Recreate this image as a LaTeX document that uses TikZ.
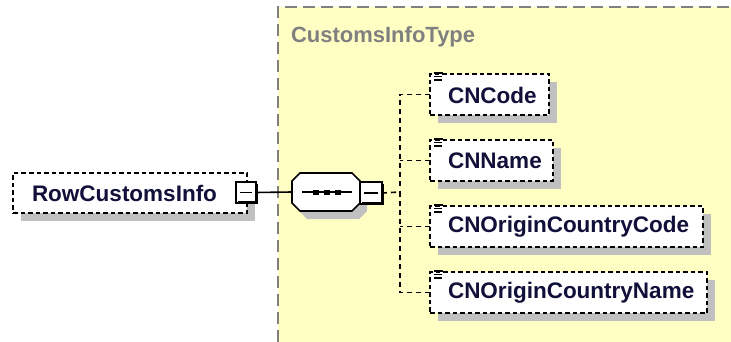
\documentclass[tikz,border=0pt]{standalone}
\usepackage{fontspec}
\setmainfont{Liberation Sans}
\begin{document}
\begin{tikzpicture}[x=1pt,y=-1pt,
  every node/.style={inner sep=0pt, outer sep=0pt},
  lbl/.style={font=\fontsize{22.5}{26}\selectfont\bfseries, text=navytext, anchor=west},
  ttl/.style={font=\fontsize{22}{26}\selectfont\bfseries, text=titlegray, anchor=west},
  elembox/.style={draw=black, fill=white, line width=1.6pt, dash pattern=on 4.5pt off 3pt, rectangle, anchor=north west},
  shadowbox/.style={fill=shadowgray, draw=none, rectangle, anchor=north west},
  conn/.style={draw=black, line width=1.6pt},
  dconn/.style={draw=black, line width=1.6pt, dash pattern=on 5pt off 4pt},
  minusbox/.style={draw=black, fill=white, line width=1.4pt, rectangle, anchor=north west, minimum width=20pt, minimum height=21pt}
]
\definecolor{navytext}{HTML}{10103A}
\definecolor{titlegray}{HTML}{808080}
\definecolor{shadowgray}{HTML}{C0C0C0}
\definecolor{typefill}{HTML}{FFFFC4}
\useasboundingbox (0,0) rectangle (731,342);
\fill[white] (0,0) rectangle (731,342);
% type box
\path[fill=typefill] (278,7) rectangle (731,342);
\draw[titlegray, line width=2pt, dash pattern=on 12pt off 6pt] (278,342) -- (278,7) -- (731,7);
\node[ttl] (typetitle) at (291,37) {CustomsInfoType};

% root element
\node[shadowbox, minimum width=234pt, minimum height=40pt] (rootsh) at (21,181) {};
\node[elembox, minimum width=234pt, minimum height=40pt] (rootbox) at (13,173) {};
\node[lbl] (rootlbl) at (32,193) {RowCustomsInfo};
\node[minusbox] (rootminus) at (236,182) {};
\draw[black, line width=3pt] ([xshift=0.8pt,yshift=-1.5pt]rootminus.north east) -- ([xshift=0.8pt,yshift=0.8pt]rootminus.south east) -- ([xshift=-18pt, yshift=0.8pt]rootminus.south east);
\draw[black, line width=1.4pt] ([xshift=4pt]rootminus.west) -- ([xshift=-4pt]rootminus.east);

% sequence compositor
\fill[shadowgray] (307,180) -- (359,180) -- (367,188) -- (367,211) -- (359,219) -- (307,219) -- (299,211) -- (299,188) -- cycle;
\draw[black, fill=white, line width=1.6pt] (300,173) coordinate (seqtl) -- (352,173) -- (360,181) -- (360,203) -- (352,211) -- (300,211) -- (292,203) -- (292,181) coordinate (seqw0) -- cycle;
\coordinate (seqwest) at (292,192);
\coordinate (seqeast) at (360,192);
\draw[black, line width=1.5pt] (302,192) -- (352,192);
\foreach \xx in {313,324,335} \fill[black] (\xx,189.5) rectangle ++(5.5,5.5);
\node[minusbox, minimum width=22pt, minimum height=22pt] (seqminus) at (360,182) {};
\draw[black, line width=3pt] ([xshift=0.8pt,yshift=-1.5pt]seqminus.north east) -- ([xshift=0.8pt,yshift=0.8pt]seqminus.south east) -- ([xshift=-20pt, yshift=0.8pt]seqminus.south east);
\draw[black, line width=1.4pt] ([xshift=4pt]seqminus.west) -- ([xshift=-4pt]seqminus.east);

\draw[conn] (rootminus.east) -- (seqwest);

% children
\foreach \nm/\yy/\ww/\txt in {c1/74/119/CNCode, c2/140/123/CNName, c3/206/273/CNOriginCountryCode, c4/272/277/CNOriginCountryName}{
  \node[shadowbox, minimum width=\ww pt, minimum height=41pt] (\nm sh) at (438,\yy+8) {};
  \node[elembox, minimum width=\ww pt, minimum height=41pt] (\nm) at (430,\yy) {};
  \node[lbl] (\nm lbl) at (448,\yy+21) {\txt};
  \draw[black, line width=1.3pt] (434,\yy-1) -- (443,\yy-1) (434,\yy+2.5) -- (442,\yy+2.5) (434,\yy+6) -- (442,\yy+6);
}
\coordinate (trunk) at (400,192);
\draw[dconn] (seqminus.east) -- (trunk);
\draw[dconn] (c1.west) -| (trunk);
\draw[dconn] (c4.west) -| (trunk);
\draw[dconn] (c2.west) -- (c2.west -| trunk);
\draw[dconn] (c3.west) -- (c3.west -| trunk);
\end{tikzpicture}
\end{document}
